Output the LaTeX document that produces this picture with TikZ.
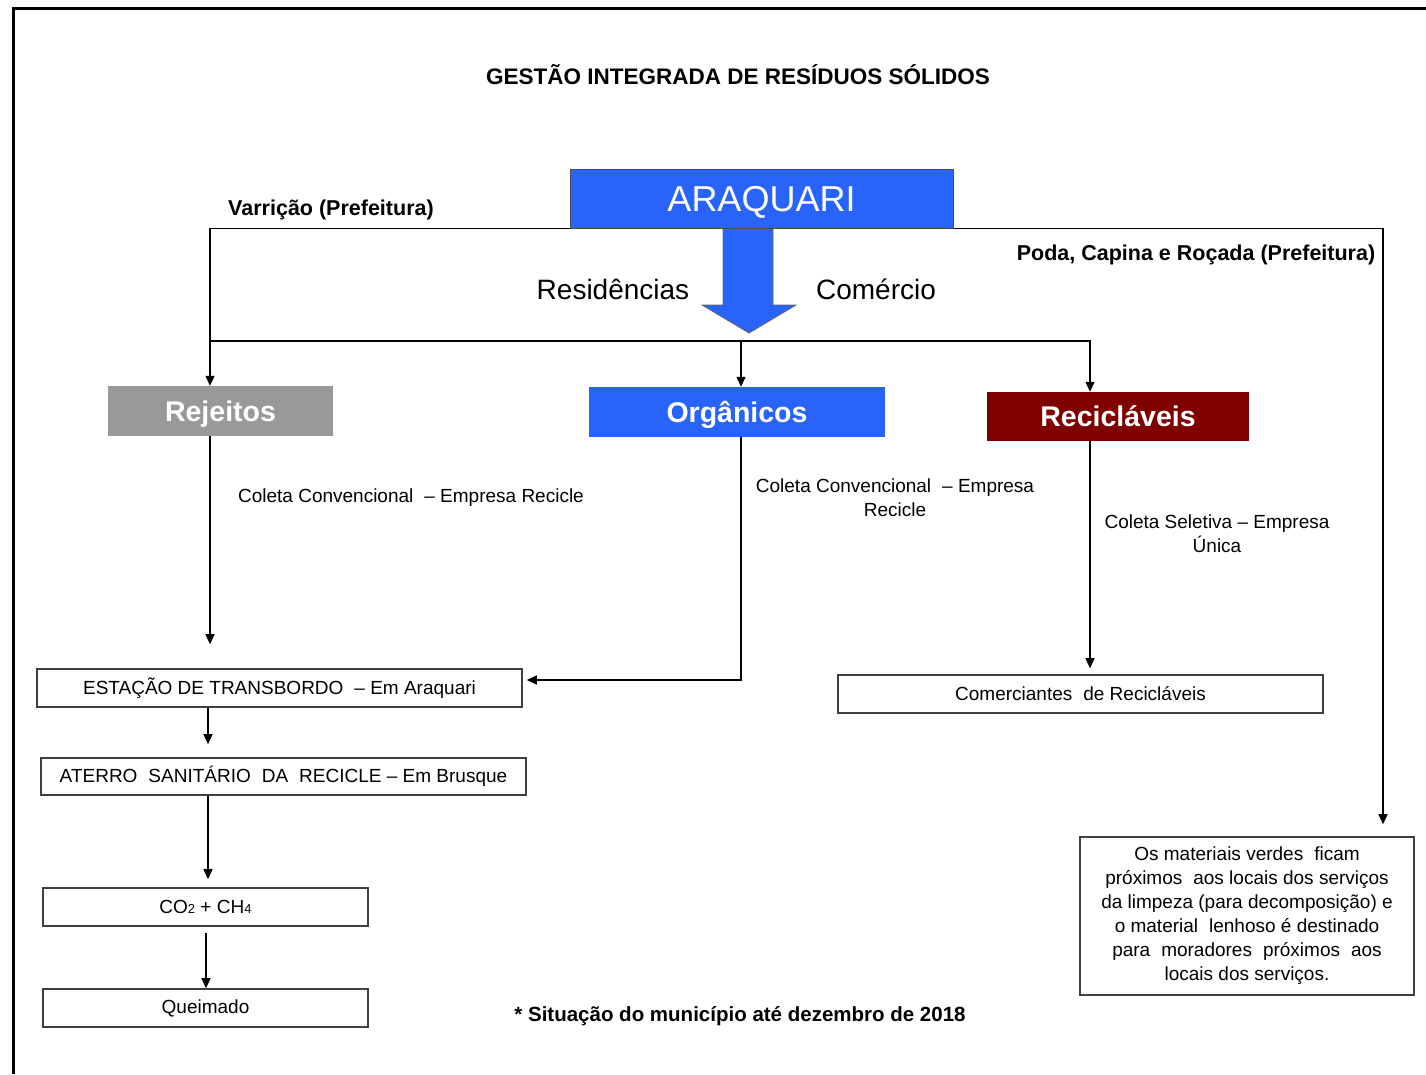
\documentclass[tikz,border=0pt]{standalone}
\usepackage{fontspec}
\setmainfont{Liberation Sans}
\usetikzlibrary{arrows.meta}
\definecolor{azul}{RGB}{40,100,250}
\definecolor{vinho}{RGB}{128,0,0}
\definecolor{cinza}{RGB}{153,153,153}
\tikzset{
  caixa/.style={draw=black!75, line width=1.6pt, inner sep=0pt, font=\fontsize{19}{24}\selectfont},
  tipo/.style={inner sep=0pt, text=white, font=\fontsize{28.5}{30}\selectfont\bfseries, minimum height=50pt,
               text height=20pt, text depth=0pt},
  seta/.style={-{Triangle[length=10pt,width=9pt]}, line width=1.3pt},
  linha/.style={line width=1.3pt},
  negrito/.style={inner sep=0pt, font=\fontsize{21.5}{26}\selectfont\bfseries},
  texto/.style={inner sep=0pt, align=center, font=\fontsize{19}{24}\selectfont}
}
\newcommand{\dsp}{\hspace{0.3em}}
\begin{document}
\begin{tikzpicture}[x=1pt, y=-1pt]
  \useasboundingbox (0,0) rectangle (1426,1074);
  \draw[line width=3pt] (13,1074) -- (13,8) -- (1426,8);

  %%title and labels
  \node[negrito, font=\fontsize{22.5}{26}\selectfont\bfseries] (titulo) at (738,75){GESTÃO INTEGRADA DE RESÍDUOS SÓLIDOS};
  \node[negrito] (varricao) at (331,210){Varrição (Prefeitura)};
  \node[negrito] (podalbl) at (1196,255){Poda, Capina e Roçada (Prefeitura)};
  \node[inner sep=0pt, font=\fontsize{28}{30}\selectfont] (resid) at (613,289){Residências};
  \node[inner sep=0pt, font=\fontsize{28}{30}\selectfont] (comerc) at (876,289){Comércio};

  %%the big arrow
  \draw[fill=azul, draw=black!60, line width=0.8pt] (723,228) -- (773,228) -- (773,305) -- (796,305)
      -- (749,333) -- (702,305) -- (723,305) -- cycle;

  %%main boxes
  \node[draw=black!70, line width=1pt, fill=azul, text=white, minimum width=383pt, minimum height=59pt,
        text height=26pt, text depth=0pt, inner sep=0pt,
        font=\fontsize{36}{38}\selectfont] (aq) at (761.5,198.5){ARAQUARI};
  \node[tipo, fill=cinza, minimum width=225pt] (rej) at (220.5,411){Rejeitos};
  \node[tipo, fill=azul, minimum width=296pt] (org) at (737,412){Orgânicos};
  \node[tipo, fill=vinho, minimum width=262pt, minimum height=49pt] (rec) at (1118,416.5){Recicláveis};

  %%the lower boxes
  \node[caixa, minimum width=485pt, minimum height=38pt] (est) at (279.5,688){ESTAÇÃO DE TRANSBORDO\dsp\ – Em Araquari};
  \node[caixa, minimum width=485pt, minimum height=37pt] (ate) at (283.5,776.5){ATERRO\dsp\ SANITÁRIO\dsp\ DA\dsp\ RECICLE – Em Brusque};
  \node[caixa, minimum width=325pt, minimum height=38pt] (gas) at (205.5,907){CO{\fontsize{13}{13}\selectfont 2} + CH{\fontsize{13}{13}\selectfont 4}};
  \node[caixa, minimum width=325pt, minimum height=38pt] (que) at (205.5,1008){Queimado};
  \node[caixa, minimum width=485pt, minimum height=38pt] (com) at (1080.5,694){Comerciantes\dsp\ de Recicláveis};
  \node[caixa, minimum width=334pt, minimum height=158pt, align=center] (poda) at (1247,916)
      {Os materiais verdes\dsp\ ficam\\próximos\dsp\ aos locais dos serviços\\da limpeza (para decomposição) e\\
       o material\dsp\ lenhoso é destinado\\para\dsp\ moradores\dsp\ próximos\dsp\ aos\\locais dos serviços.};

  %%collection labels
  \node[texto] (col1) at (411,498){Coleta Convencional\dsp\ – Empresa Recicle};
  \node[texto] (col2) at (895,498){Coleta Convencional\dsp\ – Empresa\\Recicle};
  \node[texto] (col3) at (1217,534){Coleta Seletiva – Empresa\\Única};

  \node[negrito, font=\fontsize{20.5}{24}\selectfont\bfseries] (nota) at (740,1016){* Situação do município até dezembro de 2018};

  %%the connectors
  \draw[seta] (aq.south west) -| ([xshift=-10.5pt]rej.north);
  \draw[seta, shorten >=12pt] (aq.south east) -| ([xshift=136pt]poda.north);
  \coordinate (meio) at (741,341);
  \draw[linha] (meio) -- (210,341);
  \draw[seta] (meio) -| ([xshift=-28pt]rec.north);
  \draw[seta] (meio) -- ([xshift=4pt]org.north);

  \draw[seta, shorten >=24pt] ([xshift=-10.5pt]rej.south) -- ([xshift=-10.5pt]rej.south |- est.north);
  \draw[seta, shorten >=4pt] ([xshift=4pt]org.south) |- ([yshift=8pt]est.east);
  \draw[seta, shorten >=6pt] ([xshift=-28pt]rec.south) -- ([xshift=-28pt]rec.south |- com.north);

  \draw[seta, shorten >=13pt] (est.south -| 208,0) -- (ate.north -| 208,0);
  \draw[seta, shorten >=8pt] (ate.south -| 208,0) -- (gas.north -| 208,0);
  \draw[seta, shorten <=6pt] (gas.south -| 206,0) -- (que.north -| 206,0);
\end{tikzpicture}
\end{document}
